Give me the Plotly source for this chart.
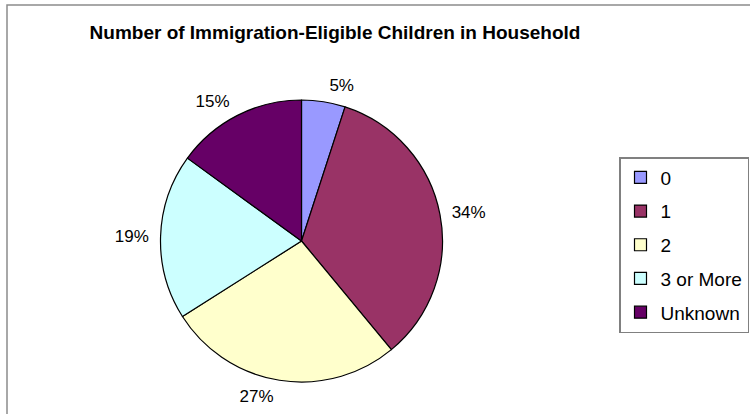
import plotly.graph_objects as go

# Share of households by number of immigration-eligible children
categories = ["0", "1", "2", "3 or More", "Unknown"]
shares = [5, 34, 27, 19, 15]
slice_colors = ["#9999FF", "#993366", "#FFFFCC", "#CCFFFF", "#660066"]

FONT = "Liberation Sans, Arial, sans-serif"

# Pie centre and radius in pixels of the 750x414 canvas
CX, CY, R = 301.5, 241.0, 141.0
LABEL_GAP = 7.0  # extra distance of the percentage labels from the rim
W, H = 750.0, 414.0


def domain(radius):
    return dict(
        x=[(CX - radius) / W, (CX + radius) / W],
        y=[1 - (CY + radius) / H, 1 - (CY - radius) / H],
    )


fig = go.Figure()

# Coloured slices
fig.add_trace(
    go.Pie(
        labels=categories,
        values=shares,
        sort=False,
        direction="clockwise",
        rotation=0,
        marker=dict(colors=slice_colors, line=dict(color="#000000", width=1.2)),
        textinfo="none",
        hoverinfo="label+percent",
        showlegend=False,
        domain=domain(R),
    )
)

# Same shares on a slightly larger, transparent ring that only carries the
# percentage labels, so they sit a little further out from the rim
fig.add_trace(
    go.Pie(
        labels=categories,
        values=shares,
        sort=False,
        direction="clockwise",
        rotation=0,
        marker=dict(colors=["rgba(0,0,0,0)"] * len(categories),
                    line=dict(width=0)),
        texttemplate="%{value}%",
        textposition="outside",
        textfont=dict(family=FONT, size=17, color="#000000"),
        hoverinfo="skip",
        showlegend=False,
        domain=domain(R + LABEL_GAP),
    )
)

# Legend keys: one entry per category, each in its own group so the
# entries can be spaced apart with tracegroupgap
for name, color in zip(categories, slice_colors):
    fig.add_trace(
        go.Scatter(
            x=[None], y=[None],
            mode="markers",
            name=name,
            legendgroup=name,
            marker=dict(symbol="square", size=12, color=color,
                        line=dict(color="#000000", width=1.2)),
            hoverinfo="skip",
        )
    )

# Chart-area frame (thin grey line along the top and left edges)
fig.add_shape(
    type="rect", xref="paper", yref="paper",
    x0=7 / W, x1=1.05, y0=-0.05, y1=1 - 5 / H,
    line=dict(color="#8c8c8c", width=1.5), fillcolor="rgba(0,0,0,0)",
)

fig.update_layout(
    width=750,
    height=414,
    margin=dict(l=0, r=0, t=0, b=0),
    paper_bgcolor="#ffffff",
    plot_bgcolor="#ffffff",
    xaxis=dict(visible=False),
    yaxis=dict(visible=False),
    title=dict(
        text="<b>Number of Immigration-Eligible Children in Household</b>",
        x=335 / W, xanchor="center",
        y=1 - 32 / H, yanchor="middle",
        font=dict(family=FONT, size=19, color="#000000"),
    ),
    legend=dict(
        x=619 / W, xanchor="left",
        y=1 - 157 / H, yanchor="top",
        bgcolor="#ffffff",
        bordercolor="#808080",
        borderwidth=1.5,
        font=dict(family=FONT, size=19, color="#000000"),
        traceorder="grouped",
        tracegroupgap=6,
    ),
)

fig.write_html("out.html")
